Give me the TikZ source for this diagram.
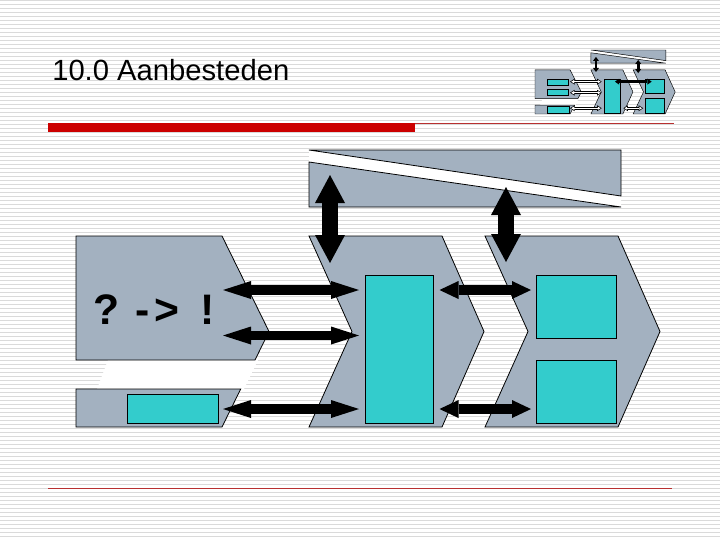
\documentclass[tikz,border=0pt]{standalone}
\usepackage{fontspec}
\setmainfont{Liberation Sans}
\usetikzlibrary{arrows.meta,fit}
\definecolor{chev}{HTML}{A3B1C0}
\definecolor{cyanbox}{HTML}{33CCCC}
\definecolor{stripe}{HTML}{DADADA}
\definecolor{redbar}{HTML}{CC0000}
\definecolor{redline}{HTML}{B83030}
\newcommand\myshapes[1]{%
  \fill[white] (108,360) -- (258,360) -- (244,389) -- (97,389) -- cycle;
  \filldraw[fill=chev, draw=black, line width=#1] (76,236) -- (222,236) -- (269,331.5) -- (255,360) -- (76,360) -- cycle;
  \filldraw[fill=chev, draw=black, line width=#1] (76,389) -- (240.7,389) -- (222,427) -- (76,427) -- cycle;
  \filldraw[fill=chev, draw=black, line width=#1] (309,236) -- (442,236) -- (484,331.5) -- (442,427) -- (309,427) -- (352,331.5) -- cycle;
  \filldraw[fill=chev, draw=black, line width=#1] (485,236) -- (618,236) -- (660,331.5) -- (618,427) -- (485,427) -- (528,331.5) -- cycle;
  \fill[white] (309,150) -- (621,196) -- (621,207) -- (309,162) -- cycle;
  \filldraw[fill=chev, draw=black, line width=#1] (309,150) -- (621,150) -- (621,196) -- cycle;
  \filldraw[fill=chev, draw=black, line width=#1] (309,162) -- (621,207) -- (309,207) -- cycle;
}
\begin{document}
\begin{tikzpicture}[x=0.75pt,y=-0.75pt,
  cbox/.style={draw=black, fill=cyanbox, inner sep=0pt, line width=0.6pt},
  bigarr/.style={line width=7.1pt, {Triangle[length=21pt,width=13.5pt,line width=0pt]}-{Triangle[length=21pt,width=13.5pt,line width=0pt]}},
  midarr/.style={line width=7.3pt, {Triangle[length=14.25pt,width=13.5pt,line width=0pt]}-{Triangle[length=14.25pt,width=13.5pt,line width=0pt]}},
  vertarr/.style={line width=12pt, {Triangle[length=21pt,width=22.5pt,line width=0pt]}-{Triangle[length=21pt,width=22.5pt,line width=0pt]}},
  iconblk/.style={line width=1.8pt, {Triangle[length=3.2pt,width=4.5pt,line width=0pt]}-{Triangle[length=3.2pt,width=4.5pt,line width=0pt]}},
  iconvert/.style={line width=2pt, {Triangle[length=3pt,width=4.5pt,line width=0pt]}-{Triangle[length=3pt,width=4.5pt,line width=0pt]}},
  iconout/.style={line width=2pt, {Triangle[length=3.4pt,width=4.4pt,line width=0pt]}-{Triangle[length=3.4pt,width=4.4pt,line width=0pt]}},
  iconin/.style={white, line width=0.8pt, shorten <=0.9pt, shorten >=0.9pt, {Triangle[length=2pt,width=2.4pt,line width=0pt]}-{Triangle[length=2pt,width=2.4pt,line width=0pt]}}
]
\useasboundingbox (0,0) rectangle (720,540);
\fill[white] (0,0) rectangle (720,540);
\foreach \k in {0,...,134} {\fill[stripe] (0,4*\k+0.2) rectangle (720,4*\k+1.3);}

% title and rules
\node[anchor=base west, inner sep=0pt, font=\fontsize{21.9}{26}\selectfont] (title) at (52,80) {10.0 Aanbesteden};
\fill[redbar] (48,123) rectangle (415,132);
\draw[redline, line width=0.75pt] (415,123.5) -- (674,123.5);
\draw[redline, line width=0.75pt] (48,488) -- (672,488);

% main diagram
\myshapes{0.6pt}
\node[cbox, fit={(127,394) (218,423)}] (lowbox) {};
\node[cbox, fit={(365,275) (433,423)}] (midbox) {};
\node[cbox, fit={(536,275) (616,338)}] (rtop) {};
\node[cbox, fit={(536,360) (616,423)}] (rbot) {};
\node[anchor=base west, inner sep=0pt, font=\bfseries\fontsize{32}{38}\selectfont] (qtext) at (93,324) {?\kern3pt\ -\kern4pt>\kern7pt\ !};

\coordinate (a1w) at (223,290); \coordinate (a1e) at (359,290);
\coordinate (a2w) at (223,335.5); \coordinate (a2e) at (359,335.5);
\coordinate (a3w) at (223,409); \coordinate (a3e) at (359,409);
\coordinate (b1w) at (439.5,290); \coordinate (b1e) at (531,290);
\coordinate (b2w) at (439.5,409); \coordinate (b2e) at (531,409);
\coordinate (v1n) at (330,175); \coordinate (v1s) at (330,263);
\coordinate (v2n) at (506,187); \coordinate (v2s) at (506,262);
\draw[bigarr] (a1w) -- (a1e);
\draw[bigarr] (a2w) -- (a2e);
\draw[bigarr] (a3w) -- (a3e);
\draw[midarr] (b1w) -- (b1e);
\draw[midarr] (b2w) -- (b2e);
\draw[vertarr] (v1n) -- (v1s);
\draw[vertarr] (v2n) -- (v2s);

% icon (miniature)
\begin{scope}[shift={(516.76,15.35)}, xscale=0.24, yscale=0.231]
  \myshapes{0.35pt}
  \filldraw[fill=cyanbox, draw=black, line width=0.35pt] (125,277) rectangle (215,301.5);
  \filldraw[fill=cyanbox, draw=black, line width=0.35pt] (125,320) rectangle (215,345);
  \filldraw[fill=cyanbox, draw=black, line width=0.35pt] (127,394) rectangle (218,423);
  \filldraw[fill=cyanbox, draw=black, line width=0.35pt] (365,275) rectangle (433,423);
  \filldraw[fill=cyanbox, draw=black, line width=0.35pt] (536,275) rectangle (616,338);
  \filldraw[fill=cyanbox, draw=black, line width=0.35pt] (536,360) rectangle (616,423);
  \coordinate (i1w) at (222,287); \coordinate (i1e) at (354,287);
  \coordinate (i2w) at (222,335); \coordinate (i2e) at (354,335);
  \coordinate (i3w) at (222,402); \coordinate (i3e) at (354,402);
  \coordinate (i4w) at (444,402); \coordinate (i4e) at (527,402);
  \coordinate (i5w) at (409,287); \coordinate (i5e) at (562,287);
  \coordinate (i6n) at (330,180); \coordinate (i6s) at (330,245);
  \coordinate (i7n) at (506,193); \coordinate (i7s) at (506,250);
  \foreach \a/\b in {i1w/i1e, i2w/i2e, i3w/i3e, i4w/i4e} {
    \draw[iconout] (\a) -- (\b);
    \draw[iconin] (\a) -- (\b);
  }
  \draw[iconblk] (i5w) -- (i5e);
  \draw[iconvert] (i6n) -- (i6s);
  \draw[iconvert] (i7n) -- (i7s);
\end{scope}
\end{tikzpicture}
\end{document}
